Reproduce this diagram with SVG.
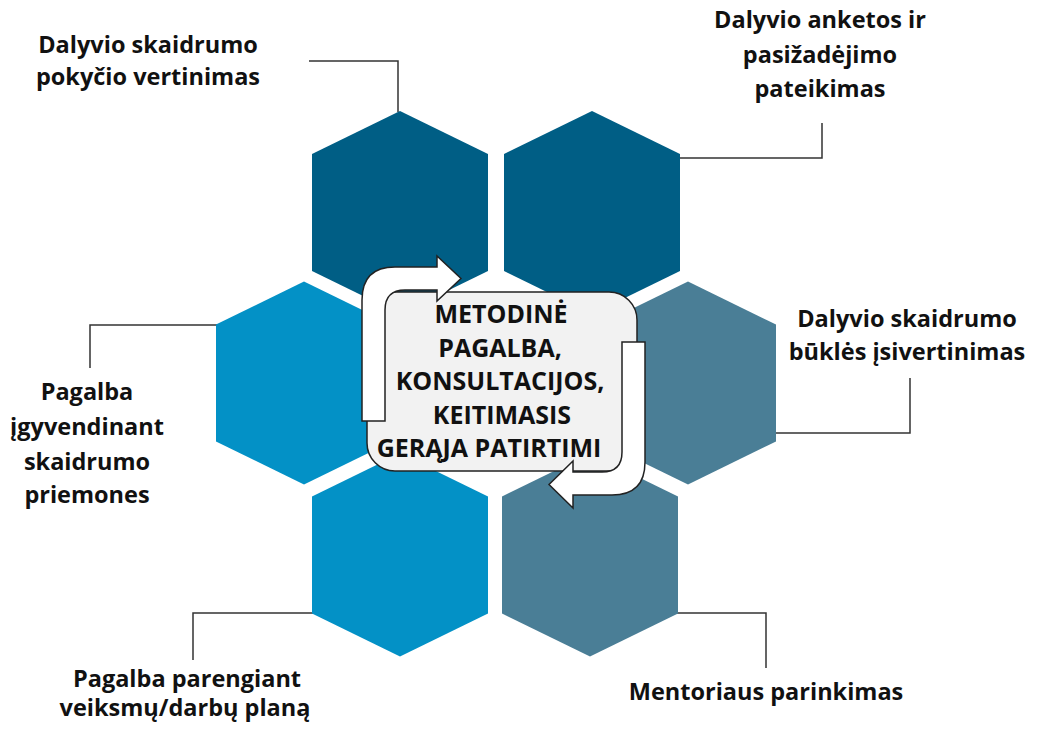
<svg xmlns="http://www.w3.org/2000/svg" width="1056" height="733" viewBox="0 0 1056 733">
<style>
.dark{fill:#005e85}
.light{fill:#0391c6}
.gray{fill:#4a7e96}
.lbl{font-family:"Open Sans","Liberation Sans",sans-serif;font-weight:bold;font-size:23.5px;fill:#111;text-anchor:middle}
.ctr{font-family:"Open Sans","Liberation Sans",sans-serif;font-weight:bold;font-size:25px;fill:#111;text-anchor:middle}
.conn{fill:none;stroke:#333;stroke-width:1.5}
.arrow{fill:#fff;stroke:#222;stroke-width:1.5;stroke-linejoin:miter}
</style>
<defs>
<polygon id="hex" points="0,-101.5 88,-58.5 88,58.5 0,101.5 -88,58.5 -88,-58.5"/>
</defs>
<rect width="1056" height="733" fill="#fff"/>
<g id="connectors">
<polyline class="conn" points="309,61 398,61 398,112"/>
<polyline class="conn" points="822,123 822,158 680,158"/>
<polyline class="conn" points="910,378 910,433 775,433"/>
<polyline class="conn" points="90,368 90,325 218,325"/>
<polyline class="conn" points="193,660 193,613 313,613"/>
<polyline class="conn" points="766,668 766,613 677,613"/>
</g>
<g id="hex-top-left"><use href="#hex" x="400" y="212.5" class="dark"/></g>
<g id="hex-top-right"><use href="#hex" x="592" y="212.5" class="dark"/></g>
<g id="hex-mid-left"><use href="#hex" x="304" y="383" class="light"/></g>
<g id="hex-mid-right"><use href="#hex" x="688" y="383" class="gray"/></g>
<g id="hex-bottom-left"><use href="#hex" x="400" y="555" class="light"/></g>
<g id="hex-bottom-right"><use href="#hex" x="590" y="555" class="gray"/></g>
<g id="center">
<rect x="367" y="292" width="270" height="179" rx="28" fill="#f2f2f2" stroke="#222" stroke-width="1.5"/>
<text class="ctr" x="501" y="323">METODINĖ</text>
<text class="ctr" x="500" y="356.5">PAGALBA,</text>
<text class="ctr" x="500" y="390">KONSULTACIJOS,</text>
<text class="ctr" x="502" y="423.5">KEITIMASIS</text>
<text class="ctr" x="489" y="457">GERĄJA PATIRTIMI</text>
<path class="arrow" d="M362 421 L362 300 Q362 267 395 267 L437 267 L437 256 L461 278.5 L437 301 L437 290 L405 290 Q385 290 385 310 L385 421 Z"/>
<path class="arrow" d="M645 342 L645 462 Q645 495 612 495 L573 495 L573 508 L549 484.5 L573 461 L573 472 L602 472 Q622 472 622 452 L622 342 Z"/>
</g>
<g id="label-top-left">
<text class="lbl" x="148" y="53">Dalyvio skaidrumo</text>
<text class="lbl" x="148" y="85">pokyčio vertinimas</text>
</g>
<g id="label-top-right">
<text class="lbl" x="820" y="28">Dalyvio anketos ir</text>
<text class="lbl" x="820" y="63">pasižadėjimo</text>
<text class="lbl" x="820" y="97">pateikimas</text>
</g>
<g id="label-mid-right">
<text class="lbl" x="907" y="327">Dalyvio skaidrumo</text>
<text class="lbl" x="907" y="360">būklės įsivertinimas</text>
</g>
<g id="label-mid-left">
<text class="lbl" x="87" y="400">Pagalba</text>
<text class="lbl" x="87" y="435">įgyvendinant</text>
<text class="lbl" x="87" y="470">skaidrumo</text>
<text class="lbl" x="87" y="503">priemones</text>
</g>
<g id="label-bottom-left">
<text class="lbl" x="187" y="687">Pagalba parengiant</text>
<text class="lbl" x="185" y="716">veiksmų/darbų planą</text>
</g>
<g id="label-bottom-right">
<text class="lbl" x="766" y="700">Mentoriaus parinkimas</text>
</g>
</svg>
